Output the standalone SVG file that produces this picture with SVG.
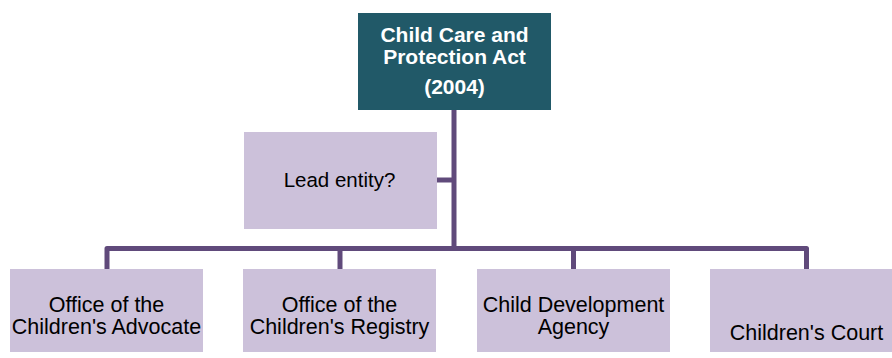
<svg xmlns="http://www.w3.org/2000/svg" width="892" height="358" viewBox="0 0 892 358">
<style>
.box{fill:#CCC1DA}
.top{fill:#215968}
.conn{fill:none;stroke:#604A7B;stroke-width:5;stroke-linejoin:round}
.t{font-family:"Liberation Sans",Arial,sans-serif;font-size:21.5px;fill:#000;text-anchor:middle}
.h{font-family:"Liberation Sans",Arial,sans-serif;font-size:21px;font-weight:bold;fill:#fff;text-anchor:middle}
</style>
<rect width="892" height="358" fill="#fff"/>
<g id="connectors">
<path class="conn" d="M454 110 V248.5"/>
<path class="conn" d="M437 180 H454"/>
<path class="conn" d="M107 269 V248.5 H806.5 V269"/>
<path class="conn" d="M340 248.5 V269"/>
<path class="conn" d="M573.5 248.5 V269"/>
</g>
<g id="act">
<rect class="top" x="358" y="13" width="193" height="97"/>
<text class="h" x="454.5" y="41.5">Child Care and</text>
<text class="h" x="454.5" y="63.5">Protection Act</text>
<text class="h" x="454.5" y="94">(2004)</text>
</g>
<g id="lead">
<rect class="box" x="244" y="132" width="193" height="97"/>
<text class="t" x="339.5" y="187" style="font-size:20.5px">Lead entity?</text>
</g>
<g id="advocate">
<rect class="box" x="10" y="269" width="193" height="83"/>
<text class="t" x="106.5" y="312">Office of the</text>
<text class="t" x="106.5" y="334">Children's Advocate</text>
</g>
<g id="registry">
<rect class="box" x="243" y="269" width="193" height="83"/>
<text class="t" x="339.5" y="312">Office of the</text>
<text class="t" x="339.5" y="334">Children's Registry</text>
</g>
<g id="cda">
<rect class="box" x="477" y="269" width="193" height="83"/>
<text class="t" x="573.5" y="312">Child Development</text>
<text class="t" x="573.5" y="334">Agency</text>
</g>
<g id="court">
<rect class="box" x="710" y="269" width="193" height="83"/>
<text class="t" x="806.5" y="340">Children's Court</text>
</g>
</svg>
